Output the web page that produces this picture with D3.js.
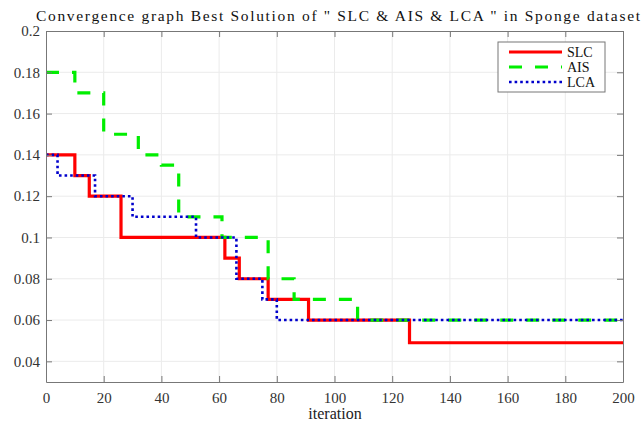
<!DOCTYPE html>
<html>
<head>
<meta charset="UTF-8">
<script src="https://cdnjs.cloudflare.com/ajax/libs/d3/7.8.5/d3.min.js"></script>
<style>
  body { margin: 0; background: #fff; }
  svg text { font-family: 'Liberation Serif', 'DejaVu Serif', serif; }
</style>
</head>
<body>
<svg id="chart" width="642" height="423"></svg>
<script>
// step points: iteration where the best value changes, and the value from there on
var slcIter = [0, 10, 15, 26, 62, 67, 77, 91, 126, 200];
var slcVal  = [0.14, 0.13, 0.12, 0.10, 0.09, 0.08, 0.07, 0.06, 0.049, 0.049];
var aisIter = [0, 10, 20, 32, 40, 46, 61, 77, 86, 108, 200];
var aisVal  = [0.18, 0.17, 0.15, 0.14, 0.135, 0.11, 0.10, 0.08, 0.07, 0.06, 0.06];
var lcaIter = [0, 4, 17, 30, 52, 66, 75, 80, 200];
var lcaVal  = [0.14, 0.13, 0.12, 0.11, 0.10, 0.08, 0.07, 0.06, 0.06];

var xTicks = [0, 20, 40, 60, 80, 100, 120, 140, 160, 180, 200];
var yTicks = [0.04, 0.06, 0.08, 0.1, 0.12, 0.14, 0.16, 0.18, 0.2];
var legendNames = ["SLC", "AIS", "LCA"];

var svg = d3.select("#chart");
var pLeft = 46, pRight = 623, pTop = 31, pBottom = 382;

var x = d3.scaleLinear().domain([0, 200]).range([pLeft, pRight]);
var y = d3.scaleLinear().domain([0.03, 0.2]).range([pBottom, pTop]);

// grid
svg.append("g").selectAll("line").data(xTicks.slice(1, -1)).enter().append("line")
  .attr("x1", d => x(d)).attr("x2", d => x(d)).attr("y1", pTop).attr("y2", pBottom)
  .attr("stroke", "#ebebeb").attr("stroke-width", 1);
svg.append("g").selectAll("line").data(yTicks.slice(0, -1)).enter().append("line")
  .attr("y1", d => y(d)).attr("y2", d => y(d)).attr("x1", pLeft).attr("x2", pRight)
  .attr("stroke", "#ebebeb").attr("stroke-width", 1);

// series
var series = [
  {iter: slcIter, val: slcVal, color: "#ff0000", width: 3.2, dash: null},
  {iter: aisIter, val: aisVal, color: "#00ee00", width: 3.2, dash: "13,13"},
  {iter: lcaIter, val: lcaVal, color: "#0000cc", width: 2.6, dash: "2.6,3"}
];
var line = d3.line()
  .x(d => x(d[0])).y(d => y(d[1]))
  .curve(d3.curveStepAfter);
series.forEach(function(s) {
  var pts = s.iter.map((it, i) => [it, s.val[i]]);
  svg.append("path").datum(pts)
    .attr("d", line)
    .attr("fill", "none")
    .attr("stroke", s.color)
    .attr("stroke-width", s.width)
    .attr("stroke-dasharray", s.dash);
});

// axes (box with inward ticks)
var axisColor = "#777";
function boxAxis(axis, tr) {
  var g = svg.append("g").attr("transform", tr).call(axis);
  g.select(".domain").attr("stroke", axisColor);
  g.selectAll(".tick line").attr("stroke", axisColor);
  g.selectAll(".tick text").attr("fill", "#333").style("font-size", "15px")
    .style("font-family", "'Liberation Serif', serif");
  return g;
}
boxAxis(d3.axisBottom(x).tickValues(xTicks).tickSize(-6).tickSizeOuter(0).tickPadding(10)
  .tickFormat(d3.format("d")), "translate(0," + pBottom + ")");
boxAxis(d3.axisTop(x).tickValues(xTicks).tickSize(-6).tickSizeOuter(0).tickFormat(""),
  "translate(0," + pTop + ")");
boxAxis(d3.axisLeft(y).tickValues(yTicks).tickSize(-6).tickSizeOuter(0).tickPadding(6)
  .tickFormat(d => String(+d.toFixed(2))), "translate(" + pLeft + ",0)");
boxAxis(d3.axisRight(y).tickValues(yTicks).tickSize(-6).tickSizeOuter(0).tickFormat(""),
  "translate(" + pRight + ",0)");

// title and axis label
svg.append("text").attr("x", 36).attr("y", 21)
  .attr("textLength", 604).attr("lengthAdjust", "spacing")
  .style("font-size", "15.5px").attr("fill", "#111")
  .text('Convergence graph Best Solution of " SLC & AIS & LCA " in Sponge dataset');
svg.append("text").attr("x", 335).attr("y", 419).attr("text-anchor", "middle")
  .style("font-size", "16px").attr("fill", "#222").text("iteration");

// legend
var lg = svg.append("g");
lg.append("rect").attr("x", 498).attr("y", 42).attr("width", 107).attr("height", 50)
  .attr("fill", "#fff").attr("stroke", "#777");
legendNames.forEach(function(name, i) {
  var s = series[i], ly = 52 + i * 15;
  lg.append("line").attr("x1", 509).attr("x2", 562).attr("y1", ly).attr("y2", ly)
    .attr("stroke", s.color).attr("stroke-width", s.width).attr("stroke-dasharray", s.dash);
  lg.append("text").attr("x", 567).attr("y", ly + 5).style("font-size", "14px")
    .attr("fill", "#111").text(name);
});
</script>
</body>
</html>
